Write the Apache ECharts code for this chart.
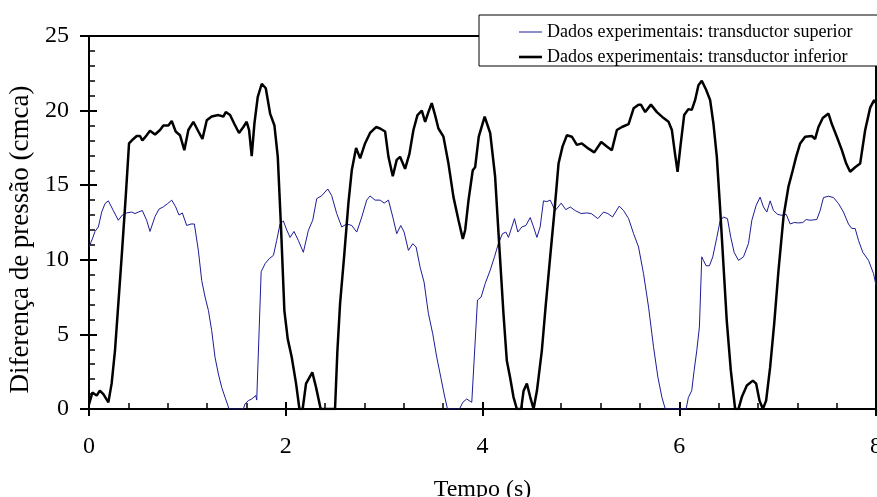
<!DOCTYPE html>
<html>
<head>
<meta charset="utf-8">
<script src="https://cdn.jsdelivr.net/npm/echarts@6/dist/echarts.min.js"></script>
<style>
  html, body { margin: 0; padding: 0; background: #fff; }
  #chartContainer { width: 877px; height: 497px; }
</style>
</head>
<body>
<div id="chartContainer"></div>
<script>
// transductor inferior (preto)
const tInferior = [0, 0.034, 0.078, 0.11, 0.146, 0.197, 0.23, 0.264, 0.298, 0.332, 0.373, 0.407, 0.451, 0.485, 0.519, 0.542, 0.569, 0.62, 0.671, 0.722, 0.756, 0.807, 0.841, 0.881, 0.925, 0.969, 1.01, 1.061, 1.112, 1.153, 1.197, 1.247, 1.315, 1.366, 1.39, 1.434, 1.478, 1.525, 1.569, 1.603, 1.627, 1.654, 1.681, 1.715, 1.756, 1.797, 1.841, 1.885, 1.919, 1.953, 1.986, 2.02, 2.06, 2.105, 2.139, 2.172, 2.206, 2.27, 2.308, 2.355, 2.501, 2.525, 2.552, 2.593, 2.637, 2.671, 2.715, 2.756, 2.806, 2.857, 2.918, 2.959, 3.01, 3.044, 3.088, 3.128, 3.162, 3.213, 3.257, 3.298, 3.339, 3.383, 3.417, 3.45, 3.484, 3.518, 3.552, 3.603, 3.654, 3.705, 3.756, 3.8, 3.824, 3.858, 3.901, 3.925, 3.962, 4.022, 4.078, 4.128, 4.169, 4.213, 4.247, 4.281, 4.315, 4.349, 4.393, 4.417, 4.451, 4.485, 4.519, 4.553, 4.603, 4.644, 4.688, 4.732, 4.773, 4.814, 4.858, 4.908, 4.959, 5.01, 5.078, 5.136, 5.207, 5.264, 5.315, 5.366, 5.417, 5.485, 5.536, 5.586, 5.61, 5.654, 5.712, 5.773, 5.841, 5.891, 5.925, 5.955, 5.983, 6.012, 6.05, 6.093, 6.127, 6.161, 6.195, 6.229, 6.273, 6.314, 6.348, 6.382, 6.415, 6.449, 6.483, 6.524, 6.568, 6.602, 6.636, 6.687, 6.748, 6.782, 6.816, 6.85, 6.883, 6.924, 6.965, 7.009, 7.06, 7.11, 7.154, 7.188, 7.229, 7.28, 7.347, 7.381, 7.415, 7.459, 7.517, 7.551, 7.602, 7.653, 7.697, 7.737, 7.788, 7.839, 7.89, 7.941, 7.981, 8.0];
const pInferior = [0.3, 1.1, 0.9, 1.23, 1.0, 0.45, 1.7, 3.9, 7.05, 10.2, 14.2, 17.8, 18.1, 18.3, 18.3, 18.0, 18.2, 18.65, 18.4, 18.7, 19.0, 19.0, 19.3, 18.6, 18.35, 17.35, 18.7, 19.25, 18.6, 18.1, 19.35, 19.6, 19.7, 19.6, 19.9, 19.7, 19.1, 18.5, 18.9, 19.25, 18.7, 16.95, 19.1, 20.9, 21.8, 21.5, 19.8, 19.0, 16.9, 12.0, 6.6, 4.7, 3.5, 1.7, 0, 0, 1.7, 2.46, 1.45, 0, 0, 3.9, 7.05, 10.2, 13.8, 16.0, 17.5, 16.8, 17.8, 18.5, 18.9, 18.8, 18.6, 16.9, 15.6, 16.7, 16.9, 16.1, 17.1, 18.7, 19.7, 20.0, 19.25, 19.9, 20.5, 19.7, 18.8, 18.25, 16.45, 14.2, 12.65, 11.4, 12.0, 14.0, 16.0, 16.2, 18.25, 19.6, 18.5, 15.6, 11.1, 6.4, 3.25, 2.1, 0.8, 0, 0, 1.2, 1.7, 0.8, 0, 1.2, 3.9, 7.05, 10.2, 13.3, 16.45, 17.6, 18.35, 18.25, 17.7, 17.8, 17.45, 17.2, 17.9, 17.6, 17.35, 18.7, 18.9, 19.1, 20.15, 20.4, 20.4, 19.9, 20.4, 19.9, 19.5, 19.25, 18.7, 17.2, 15.9, 17.6, 19.7, 20.1, 20.05, 20.7, 21.7, 22.0, 21.4, 20.7, 19.1, 16.9, 13.5, 9.7, 5.9, 2.6, 0, 0, 0.8, 1.57, 1.9, 1.7, 0.56, 0, 0.56, 2.8, 5.7, 9.3, 12.9, 14.9, 16.0, 16.9, 17.8, 18.25, 18.3, 18.1, 18.9, 19.5, 19.8, 19.1, 18.25, 17.35, 16.45, 15.9, 16.2, 16.45, 18.7, 20.2, 20.7, 20.5];

// transductor superior (azul)
const tSuperior = [0, 0.034, 0.061, 0.095, 0.129, 0.163, 0.197, 0.247, 0.298, 0.339, 0.383, 0.434, 0.468, 0.502, 0.542, 0.586, 0.62, 0.671, 0.712, 0.756, 0.8, 0.841, 0.881, 0.915, 0.949, 0.993, 1.037, 1.071, 1.112, 1.146, 1.18, 1.214, 1.247, 1.281, 1.315, 1.349, 1.383, 1.424, 1.569, 1.586, 1.62, 1.654, 1.695, 1.705, 1.75, 1.79, 1.831, 1.875, 1.908, 1.942, 1.976, 2.01, 2.044, 2.084, 2.128, 2.179, 2.23, 2.274, 2.315, 2.366, 2.427, 2.467, 2.518, 2.569, 2.62, 2.671, 2.722, 2.773, 2.823, 2.857, 2.908, 2.959, 3.0, 3.044, 3.088, 3.128, 3.169, 3.203, 3.247, 3.291, 3.325, 3.366, 3.406, 3.45, 3.494, 3.535, 3.576, 3.61, 3.644, 3.766, 3.8, 3.84, 3.891, 3.9, 3.949, 3.986, 4.027, 4.078, 4.122, 4.162, 4.203, 4.237, 4.264, 4.298, 4.325, 4.359, 4.4, 4.441, 4.485, 4.519, 4.553, 4.586, 4.62, 4.654, 4.688, 4.739, 4.8, 4.847, 4.892, 4.942, 5.003, 5.061, 5.105, 5.173, 5.23, 5.274, 5.322, 5.39, 5.434, 5.485, 5.536, 5.586, 5.637, 5.688, 5.739, 5.783, 5.824, 5.858, 6.07, 6.093, 6.127, 6.151, 6.178, 6.205, 6.229, 6.246, 6.273, 6.307, 6.341, 6.382, 6.415, 6.449, 6.49, 6.524, 6.558, 6.602, 6.653, 6.704, 6.738, 6.782, 6.822, 6.856, 6.89, 6.924, 6.958, 6.999, 7.043, 7.087, 7.128, 7.168, 7.212, 7.256, 7.29, 7.331, 7.398, 7.432, 7.466, 7.517, 7.568, 7.619, 7.669, 7.72, 7.754, 7.788, 7.822, 7.866, 7.924, 7.975, 8.0];
const pSuperior = [10.86, 11.4, 11.9, 12.2, 13.2, 13.77, 13.95, 13.3, 12.65, 13.0, 13.14, 13.2, 13.1, 13.2, 13.3, 12.65, 11.9, 12.9, 13.4, 13.55, 13.77, 14.0, 13.55, 13.0, 13.14, 12.3, 12.4, 12.4, 10.6, 8.6, 7.5, 6.6, 5.26, 3.47, 2.35, 1.45, 0.78, 0, 0, 0.34, 0.56, 0.67, 0.9, 0.6, 9.2, 9.74, 10.07, 10.3, 11.3, 12.4, 12.6, 12.0, 11.5, 11.9, 11.3, 10.5, 11.98, 12.65, 14.1, 14.3, 14.75, 14.3, 13.1, 12.2, 12.4, 12.3, 11.86, 12.87, 14.0, 14.28, 14.0, 14.0, 13.8, 14.0, 12.87, 11.75, 12.3, 11.86, 10.63, 11.08, 10.86, 9.5, 8.5, 6.4, 5.04, 3.47, 2.13, 1.0, 0, 0, 0.45, 0.67, 0.45, 0.5, 7.3, 7.5, 8.4, 9.3, 10.2, 11.1, 11.75, 11.86, 11.5, 12.2, 12.76, 11.86, 12.2, 12.3, 12.83, 12.2, 11.5, 12.2, 13.95, 13.9, 14.0, 13.3, 13.8, 13.36, 13.54, 13.3, 13.1, 13.14, 13.1, 12.76, 13.2, 13.1, 12.87, 13.6, 13.3, 12.76, 11.75, 10.86, 9.07, 6.83, 4.14, 2.13, 0.78, 0, 0, 0.78, 1.23, 2.57, 3.9, 5.5, 10.2, 9.96, 9.6, 9.6, 10.2, 11.5, 12.6, 12.87, 12.76, 11.5, 10.5, 9.96, 10.2, 11.1, 12.65, 13.65, 14.2, 13.54, 13.2, 13.95, 13.3, 13.05, 12.98, 13.05, 12.4, 12.5, 12.47, 12.5, 12.7, 12.65, 12.7, 13.3, 14.17, 14.26, 14.17, 13.77, 13.2, 12.4, 12.1, 12.1, 11.3, 10.5, 9.96, 9.07, 8.3];

const seriesNames = ['Dados experimentais: transductor superior', 'Dados experimentais: transductor inferior'];

const FONT = '"Liberation Serif", "Times New Roman", serif';

function zip(xs, ys) {
    return xs.map((x, i) => [x, ys[i]]);
}

let chart = null;

document.addEventListener('DOMContentLoaded', function() {
    chart = echarts.init(document.getElementById('chartContainer'));

    const axisBase = {
        type: 'value',
        splitLine: { show: false },
        axisLine: { show: true, onZero: false, lineStyle: { color: '#000', width: 2 } }
    };

    const option = {
        animation: false,
        backgroundColor: '#fff',
        grid: {
            left: 89, right: 1, top: 36, bottom: 88,
            outerBoundsMode: 'none', containLabel: false,
            show: true, borderColor: '#000', borderWidth: 2
        },
        legend: {
            orient: 'vertical',
            left: 479,
            top: 15,
            padding: [8, 30, 0, 40],
            itemWidth: 23,
            itemHeight: 14,
            itemGap: 7,
            backgroundColor: '#fff',
            borderColor: '#000',
            borderWidth: 1,
            textStyle: { fontFamily: FONT, fontSize: 18, color: '#000' },
            data: [
                { name: seriesNames[0], icon: 'path://M0,0H23V1H0Z' },
                { name: seriesNames[1], icon: 'path://M0,0H23V2.6H0Z' }
            ]
        },
        xAxis: [
            Object.assign({}, axisBase, {
                min: 0, max: 8, interval: 2,
                name: 'Tempo (s)', nameLocation: 'middle', nameGap: 69,
                nameTextStyle: { fontFamily: FONT, fontSize: 24, color: '#000' },
                axisTick: { show: true, inside: true, length: 7, lineStyle: { color: '#000', width: 2 } },
                minorTick: { show: true, splitNumber: 5, length: 6, lineStyle: { color: '#000', width: 1.5 } },
                axisLabel: { fontFamily: FONT, fontSize: 24, color: '#000', margin: 26 }
            }),
            Object.assign({}, axisBase, {
                min: 0, max: 8, interval: 2, position: 'bottom',
                axisLine: { show: false },
                axisTick: { show: true, inside: false, length: 7, lineStyle: { color: '#000', width: 2 } },
                axisLabel: { show: false }
            })
        ],
        yAxis: [
            Object.assign({}, axisBase, {
                min: 0, max: 25, interval: 5,
                name: 'Diferença de pressão (cmca)', nameLocation: 'middle', nameGap: 52,
                nameTextStyle: { fontFamily: FONT, fontSize: 27, color: '#000', padding: [0, 34, 0, 0] },
                axisTick: { show: true, inside: true, length: 8, lineStyle: { color: '#000', width: 2 } },
                minorTick: { show: true, splitNumber: 5, length: 6, lineStyle: { color: '#000', width: 1.5 } },
                axisLabel: { fontFamily: FONT, fontSize: 24, color: '#000', margin: 20 }
            }),
            Object.assign({}, axisBase, {
                min: 0, max: 25, interval: 5, position: 'left',
                axisLine: { show: false },
                axisTick: { show: true, inside: false, length: 9, lineStyle: { color: '#000', width: 2 } },
                axisLabel: { show: false }
            })
        ],
        series: [
            {
                name: seriesNames[0],
                type: 'line',
                data: zip(tSuperior, pSuperior),
                symbol: 'none',
                lineStyle: { color: '#1c1c96', width: 1 },
                itemStyle: { color: '#1c1c96' },
                z: 3
            },
            {
                name: seriesNames[1],
                type: 'line',
                data: zip(tInferior, pInferior),
                symbol: 'none',
                lineStyle: { color: '#000', width: 2.5 },
                itemStyle: { color: '#000' },
                z: 4
            }
        ]
    };

    chart.setOption(option);
    window.addEventListener('resize', () => { if (chart) chart.resize(); });
});
</script>
</body>
</html>
